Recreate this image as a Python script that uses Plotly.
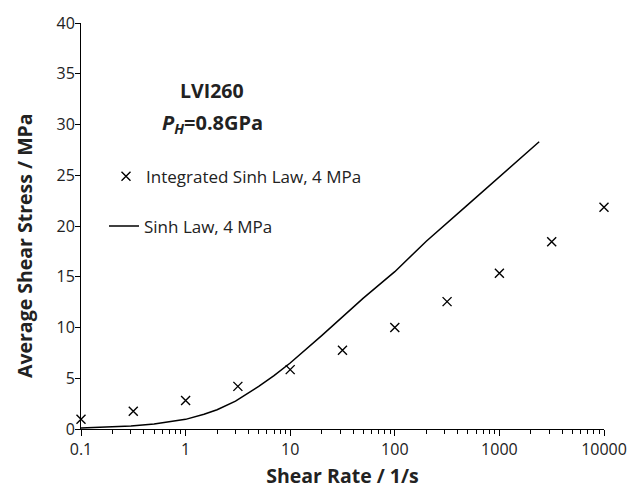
import plotly.graph_objects as go

# Data
rate_int = [0.1, 0.316, 1, 3.16, 10, 31.6, 100, 316, 1000, 3162, 10000]
stress_int = [0.95, 1.75, 2.8, 4.2, 5.85, 7.75, 10.0, 12.55, 15.35, 18.45, 21.85]

rate_sinh = [0.1, 0.2, 0.3, 0.5, 0.7, 1, 1.5, 2, 3, 5, 7, 10, 20, 50, 100, 200, 500, 1000, 2400]
stress_sinh = [0.1, 0.2, 0.3, 0.5, 0.7, 0.95, 1.45, 1.9, 2.75, 4.2, 5.25, 6.5, 9.2, 12.9, 15.5, 18.5, 22.1, 24.8, 28.3]

x_tickvals = [0.1, 1, 10, 100, 1000, 10000]
x_ticktext = ["0.1", "1", "10", "100", "1000", "10000"]
y_tickvals = [0, 5, 10, 15, 20, 25, 30, 35, 40]

# minor log ticks (2..9 within each decade)
x_minor = [d * m for d in x_tickvals[:-1] for m in range(2, 10)]

FONT = "Open Sans, sans-serif"
TXT = "#222222"

W, H = 643, 496
L, R, T, B = 81, 39, 18, 63
pw, ph = W - L - R, H - T - B


def px(xp):
    return (xp - L) / pw


def py(yp):
    return (H - B - yp) / ph


fig = go.Figure()
fig.add_trace(go.Scatter(
    x=rate_int, y=stress_int, mode="markers",
    name="Integrated Sinh Law, 4 MPa",
    marker=dict(symbol="x-thin", size=9, color="black", line=dict(color="black", width=1.4)),
    cliponaxis=False,
    legend="legend",
))
fig.add_trace(go.Scatter(
    x=rate_sinh, y=stress_sinh, mode="lines",
    name="Sinh Law, 4 MPa",
    line=dict(color="black", width=1.5),
    legend="legend2",
))

fig.update_layout(
    width=W, height=H,
    margin=dict(l=L, r=R, t=T, b=B),
    paper_bgcolor="white", plot_bgcolor="white",
    font=dict(family=FONT, size=16, color=TXT),
    showlegend=True,
    legend=dict(x=px(106), y=py(175), xanchor="left", yanchor="middle",
                bgcolor="rgba(0,0,0,0)", font=dict(size=17, color=TXT)),
    legend2=dict(x=px(104), y=py(226), xanchor="left", yanchor="middle",
                 bgcolor="rgba(0,0,0,0)", font=dict(size=17, color=TXT)),
    xaxis=dict(
        type="log", range=[-1, 4],
        tickmode="array", tickvals=x_tickvals, ticktext=x_ticktext,
        ticks="outside", ticklen=6, tickwidth=1, tickcolor="black",
        minor=dict(tickmode="array", tickvals=x_minor, ticks="outside", ticklen=4,
                   tickwidth=1, tickcolor="black", showgrid=False),
        showline=True, linecolor="black", linewidth=1,
        showgrid=False, zeroline=False,
        tickfont=dict(size=16, color=TXT),
        title=dict(text="<b>Shear Rate / 1/s</b>", font=dict(size=19.5, color=TXT), standoff=10),
    ),
    yaxis=dict(
        range=[0, 40], tickvals=y_tickvals,
        ticks="outside", ticklen=5, tickwidth=1, tickcolor="black",
        ticklabelstandoff=-3,
        showline=True, linecolor="black", linewidth=1,
        showgrid=False, zeroline=False,
        tickfont=dict(size=16, color=TXT),
    ),
    annotations=[
        dict(text="<b>Average Shear Stress / MPa</b>", textangle=-90,
             xref="paper", yref="paper", x=px(24), y=py(246),
             xanchor="center", yanchor="middle", showarrow=False,
             font=dict(size=19.5, color=TXT)),
        dict(text="<b>LVI260</b>", xref="paper", yref="paper",
             x=px(212), y=py(87), xanchor="center", yanchor="middle",
             showarrow=False, font=dict(size=19.5, color=TXT)),
        dict(text="<b><i>P</i><sub><i>H</i></sub>=0.8GPa</b>", xref="paper", yref="paper",
             x=px(212), y=py(121), xanchor="center", yanchor="middle",
             showarrow=False, font=dict(size=20, color=TXT)),
    ],
)

fig.write_html("out.html")
